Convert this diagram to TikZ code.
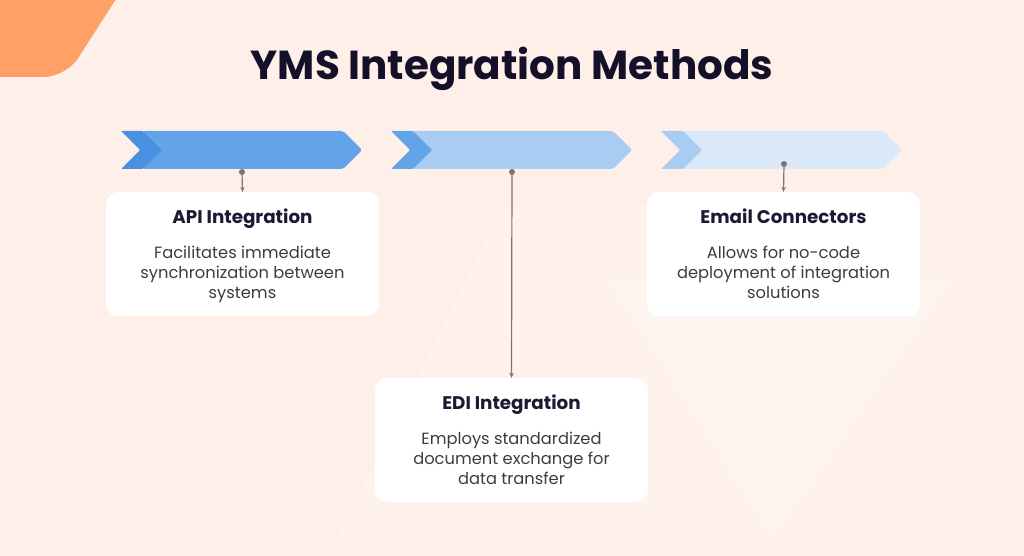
\documentclass[tikz,border=0pt]{standalone}
\usepackage{fontspec}
\setmainfont{Poppins}
\usetikzlibrary{arrows.meta,positioning}
\definecolor{Bg}{RGB}{254,240,232}
\definecolor{Band}{RGB}{254,242,235}
\definecolor{Wedge}{RGB}{254,245,240}
\definecolor{Corner}{RGB}{255,161,102}
\definecolor{Title}{RGB}{21,16,42}
\definecolor{Head}{RGB}{27,26,51}
\definecolor{Body}{RGB}{60,60,68}
\definecolor{Link}{RGB}{122,116,116}
\definecolor{Adark}{RGB}{74,144,226}
\definecolor{Afill}{RGB}{99,164,232}
\definecolor{Bfill}{RGB}{168,204,242}
\definecolor{Cfill}{RGB}{218,233,250}

\begin{document}
\begin{tikzpicture}[x=1pt,y=-1pt,line join=round,
  title/.style={font=\bfseries\fontsize{40.5}{44}\selectfont,text=Title,inner sep=0pt,anchor=base},
  box/.style={rectangle,rounded corners=12pt,fill=white,minimum width=273pt,minimum height=124pt,inner sep=0pt},
  head/.style={font=\bfseries\fontsize{18.3}{20}\selectfont,text=Head,inner sep=0pt,anchor=base},
  body/.style={font=\fontsize{16.3}{19.8}\selectfont,text=Body,align=center,inner sep=0pt,anchor=north},
  pin/.style={circle,fill=Link,minimum size=6pt,inner sep=0pt},
  link/.style={draw=Link,line width=1.2pt,-{Stealth[length=5pt,width=4.5pt]}}]
\path[use as bounding box] (0,0) rectangle (1024,556);
\fill[Bg] (0,0) rectangle (1024,556);
% faint background mark
\fill[Band,rounded corners=30pt] (327,556) -- (505,203) -- (1060,203) -- (1060,256) -- (860,556) -- cycle;
\fill[Wedge] (610,280) -- (950,280) -- (773,537) -- cycle;
\fill[Corner,rounded corners=22pt] (-40,-40) -- (141,-40) -- (66,77) -- (-40,77) -- cycle;
\node[title] (title) at (512,80) {YMS Integration Methods};
% chevrons
\fill[Afill,rounded corners=2pt] (143,131) -- (343,131) -- (362,150) -- (343,169) -- (143,169) -- (162,150) -- cycle;
\fill[Adark,rounded corners=1pt] (121,131) -- (143,131) -- (162,150) -- (143,169) -- (121,169) -- (140,150) -- cycle;
\fill[Bfill,rounded corners=2pt] (413,131) -- (613,131) -- (632,150) -- (613,169) -- (413,169) -- (432,150) -- cycle;
\fill[Afill,rounded corners=1pt] (391,131) -- (413,131) -- (432,150) -- (413,169) -- (391,169) -- (410,150) -- cycle;
\fill[Cfill,rounded corners=2pt] (683,131) -- (883,131) -- (902,150) -- (883,169) -- (683,169) -- (702,150) -- cycle;
\fill[Bfill,rounded corners=1pt] (661,131) -- (683,131) -- (702,150) -- (683,169) -- (661,169) -- (680,150) -- cycle;
% boxes
\node[box] (boxA) at (242.5,254) {};
\node[box] (boxB) at (511.5,440) {};
\node[box] (boxC) at (783.5,254) {};
\node[head] (headA) at ([yshift=-32pt]boxA.north) {API Integration};
\node[body] (txtA) at ([yshift=-54pt]boxA.north) {Facilitates immediate\\synchronization between\\systems};
\node[head] (headB) at ([yshift=-32pt]boxB.north) {EDI Integration};
\node[body] (txtB) at ([yshift=-54pt]boxB.north) {Employs standardized\\document exchange for\\data transfer};
\node[head] (headC) at ([yshift=-32pt]boxC.north) {Email Connectors};
\node[body] (txtC) at ([yshift=-54pt]boxC.north) {Allows for no-code\\deployment of integration\\solutions};
% connectors
\node[pin] (pinA) at (242,172) {};
\node[pin] (pinB) at (512,172) {};
\node[pin] (pinC) at (784,164) {};
\draw[link] (pinA) -- (boxA.north);
\draw[link] (pinB) -- (boxB.north);
\draw[link] (pinC) -- (boxC.north);
\end{tikzpicture}
\end{document}
